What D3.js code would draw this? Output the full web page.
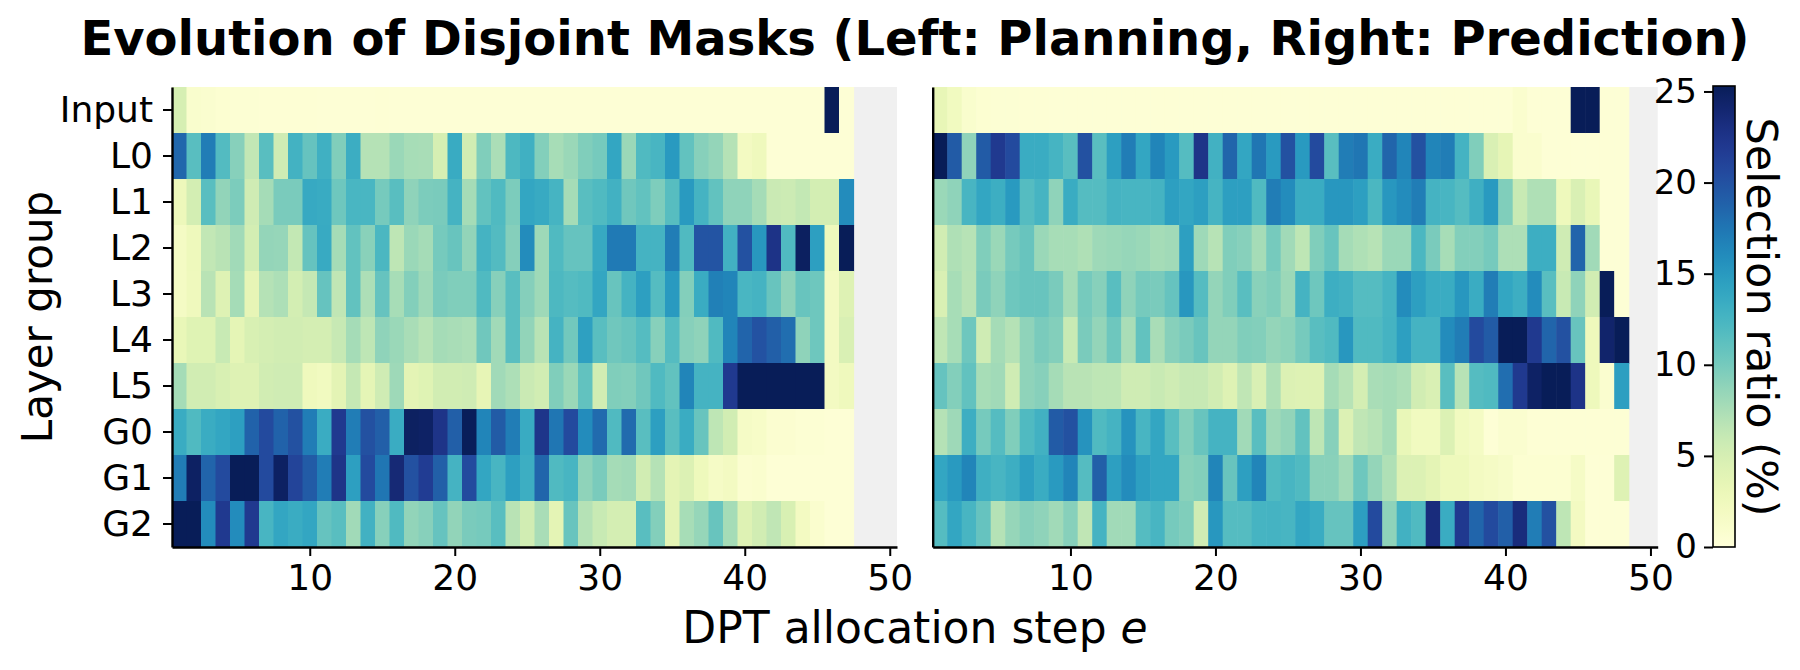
<!DOCTYPE html>
<html>
<head>
<meta charset="utf-8">
<script src="https://cdn.jsdelivr.net/npm/d3@7"></script>
<style>
  body { margin: 0; background: #fff; }
  text { font-family: "DejaVu Sans", sans-serif; }
</style>
</head>
<body>
<div id="chart"></div>
<script>
/* disjoint masks heatmaps, planning vs prediction */

const rowLabels = ["Input", "L0", "L1", "L2", "L3", "L4", "L5", "G0", "G1", "G2"];
const xTicks = [10, 20, 30, 40, 50];
const cbarTicks = [0, 5, 10, 15, 20, 25];

// planning (left), steps 1..47
const planInput = [5.0,1.0,0.8,0.6,0.5,0.5,0.4,0.4,0.4,0.4, 0.3,0.3,0.3,0.3,0.4,0.3,0.3,0.3,0.3,0.3, 0.3,0.3,0.3,0.3,0.3,0.3,0.3,0.3,0.3,0.3, 0.3,0.3,0.3,0.3,0.3,0.3,0.3,0.3,0.3,0.3, 0.3,0.3,0.3,0.3,0.3,26,0.3];
const planL0 = [18.5,11.5,17,11.8,9.2,6.3,11.5,5.5,12.8,10.8, 13,9.5,13.3,7,7,8.3,7.7,7.6,5,13.5, 5.3,9.5,7.5,12.2,13,9.4,7.7,8.3,9.5,10, 14,8.3,12,12.5,15,11,9.2,8.6,7,2, 2.5,0.3,0.3,0.3,0.3,0.3,0.3];
const planL1 = [2.8,5.2,11.5,8.7,9.7,5.5,7.8,9.8,9.8,13.7, 13.5,10.4,12.4,12.4,10,11.5,8.8,9.7,9.8,12.7, 7.8,11,12,9.7,14,13.6,12.6,7.8,11.5,12, 12.9,10.3,11,9.6,11.6,15,12.7,11,8.8,8.8, 7.8,5.8,5.7,6.2,5.2,5.2,16];
const planL2 = [1.8,2.6,6.3,6.8,8,5.2,8.6,8.5,6.2,10.8, 13.6,7.8,11,9.1,12.3,6.5,8.3,7.8,10,10.7, 8.7,12.7,11.8,9.3,16,8.1,12,10.8,10.8,13.7, 17.2,17.2,12.7,12.7,17,12,19.8,19.8,12.9,20, 15.2,22.6,12,24.9,14.6,2.6,26];
const planL3 = [1.8,2.5,6.8,4.3,7.8,3.5,7,7.4,5.2,6.1, 10.8,6.4,11,7.4,10.8,7.7,9.4,8.1,9.8,9.5, 9.5,12,9.2,11.5,9.3,8.1,12.2,11.7,12,14, 10.7,12.7,14.6,11.7,15,9.4,13.4,16.8,16.5,12.4, 12.7,10.7,8.8,10.7,10.4,2,4.3];
const planL4 = [3.2,4.2,4.2,5.9,3.7,4.8,5.1,5.3,5.3,5.1, 5.1,6,7.8,6.5,8.8,8.3,7.6,6.9,7.8,7.6, 7.4,10.3,8,11.5,8.7,6.8,12.7,10.2,14.5,11.5, 10.3,10.7,11.7,9.2,11.7,9.2,8.8,12,16.5,18.7, 19.9,19,18,8.8,10.4,2,4.7];
const planL5 = [7.8,5.3,5.3,4.8,4.3,4.3,5.3,5.5,5.5,2.5, 2.2,3.8,6.1,3.7,5.5,8.1,3.8,4.2,5.3,5.3, 5.5,3.5,8,7.4,5.8,5.3,9.5,8.3,11,5.3, 9.5,9.4,10.3,12,11,16.5,12.7,12.7,22,26, 26,26,26,26,26,2,2.5];
const planG0 = [13.4,12,13.4,14,14.6,18.8,20.5,18.8,20,17, 13.4,22,17,20,19,13.4,24.8,24.6,22.5,19, 25.2,16.5,19.3,17,13.5,22.4,17.5,20.5,16,18.2, 12,18.2,11.5,14.6,11.5,13.4,10.7,6.5,5.3,1.6, 1.4,0.7,0.7,0.5,0.5,0.3,0.3];
const planG1 = [17,24.7,18.7,20.5,26,26,20.5,24.7,21,19.3, 17,22.5,14.6,20.5,17.5,23.7,20,21.7,19,12.7, 20.5,14,12.5,14.6,13.2,18.6,12,12.5,8.8,9.8, 7.8,8,5.3,7,3.8,4.5,2.6,1.6,2,0.7, 0.9,0.3,0.3,0.3,0.3,0.3,0.3];
const planG2 = [26,26,16,22,16,22,12.5,14,13.4,14, 10.8,11.5,8,12.9,9.2,12,8.7,9.2,10.8,8.7, 9.8,10,11.5,6.8,5.3,7.6,3.8,10.7,7,5.9, 5.1,5.1,11.5,9.4,3.8,7.7,8.5,10.7,7.8,4.3, 5.3,6.4,4.8,2,0.9,0.3,0.3];

// prediction (right), steps 1..48
const predInput = [3.3,2.2,1.0,0.6,0.5,0.5,0.4,0.4,0.3,0.3, 0.3,0.3,0.3,0.3,0.3,0.3,0.3,0.3,0.3,0.3, 0.3,0.3,0.3,0.3,0.3,0.3,0.3,0.3,0.3,0.3, 0.3,0.3,0.3,0.3,0.3,0.3,0.3,0.3,0.3,0.3, 0.9,0.3,0.3,0.3,26,26,0.3,0.3];
const predL0 = [26,19.3,8.8,19.3,22,20.5,13.4,13.4,12.6,11.5, 20,11.5,14.6,17,14,16.5,15,11.7,22.5,12.9, 18.6,14,17.5,15,20,15,20.5,11.5,17,17.5, 13.4,18.6,16.5,20,16.5,17,12.7,9.5,4.7,3.6, 0.9,0.9,0.3,0.3,0.3,0.3,0.3,0.3];
const predL1 = [8.3,8.8,12.5,14,13.2,15,11.7,12.6,8.8,13.4, 11.7,11.7,12.7,12.5,12.5,12.7,14.6,14,14.6,12.6, 14.6,14.6,12,17,16,13.4,13.4,15.2,15.2,14.6, 12.3,15.2,16,17,12.7,12.5,11.7,13.1,15,9.5, 5.9,7.3,7.3,2.6,4.7,3.2,0.3,0.3];
const predL2 = [5.3,7.3,6.9,9.5,8.3,10,10.7,8.3,7.7,7.7, 7.3,8.1,8.3,8.5,8.3,7.8,8,14.6,8.1,6.9, 9.5,9.2,7.8,10,8,6.5,9.5,10.7,7.8,7.3, 6.9,8.3,8.3,12.3,9.8,7.7,9.4,9.4,10,7.4, 7.4,13.2,13.2,5.5,18.7,8,0.3,0.3];
const predL3 = [4.7,7.7,6.8,9.8,8.8,10.4,10.7,10.7,9.8,7.8, 10,9.2,11.5,8.8,10,9.8,10.8,15.2,11.7,8.6, 9.5,11.5,9.1,9.5,8.2,12.7,10.4,13.2,12.9,11.7, 11.7,12.6,16,14.6,13.4,13.4,15.2,13.4,17,14, 13.2,16,11.5,5.9,8.8,5.3,26,0.3];
const predL4 = [6.4,7.7,10.4,5.5,7.8,7,8.8,9.8,9.4,5.9, 9.8,8.6,10.4,7.6,11,7.6,9.2,9.8,10.7,8.6, 8.6,9.5,9.4,8.6,8.9,10,11.5,12,15.2,12, 12,12.7,14.6,12.7,12.7,16,17,20.5,19.3,26, 26,22,18.6,20,10.7,2.6,24.3,26];
const predL5 = [10.8,9.4,11,7.7,8,5.5,8.8,9.2,7.8,6.8, 6.8,6.5,6.5,5.5,5.5,5.9,5.5,6,6,5.3, 4.3,6.4,4.7,7.3,4.5,4.3,4.3,7.8,6.9,5.1, 7.6,7.8,7.4,5.3,4.7,11.5,6.9,11.7,12,18, 22,24.6,26,26,22.6,2.6,0.8,14.6];
const predG0 = [7,8.1,13.2,10,11.7,9.5,12,12.9,19.3,20, 15.5,12,12.7,15.5,12.5,14,11.5,9.4,10.7,12.7, 12.7,8,11.5,8.1,8.7,11,6.5,9.2,4.5,6.4, 6.9,7.8,3.2,2.2,2.2,4.5,2.2,1.8,0.3,0.8, 0.8,0.4,0.4,0.4,0.4,0.4,0.4,0.4];
const predG1 = [14,15,16.5,13.1,12.5,13.2,14.6,13.4,15,16.5, 11.7,19,14.6,16,14.6,14,14,9.1,9.4,16.5, 10.7,14.6,16.5,12,12.5,12,9.1,9.1,8,10.4, 8.6,7.3,4.5,4.5,3.8,2.6,2.6,2,1.7,1.3, 0.6,0.6,0.6,0.6,1.6,0.3,0.3,4.3];
const predG2 = [11.7,14,12.5,10.8,7,8.5,9.2,8.8,8,9.2, 6.4,12.7,8,8,11.7,12.5,10,9.5,5.5,15.2, 11.7,11.7,12.6,12.7,12.5,14,13.4,10.8,10.8,14.6, 20.5,8.8,12.9,12,23.3,13.4,22,18.6,20.5,19, 23.3,17,20,6.5,2,0.3,0.3,0.3];

const planRows = [planInput, planL0, planL1, planL2, planL3, planL4, planL5, planG0, planG1, planG2];
const predRows = [predInput, predL0, predL1, predL2, predL3, predL4, predL5, predG0, predG1, predG2];

const width = 1800, height = 670;
const plotTop = 87, plotBottom = 547;
const vmax = 25.3;

let svg = d3.select("#chart")
    .append("svg")
    .attr("width", width)
    .attr("height", height);

let y = d3.scaleBand()
    .domain(rowLabels)
    .range([plotTop, plotBottom]);

let color = d3.scaleSequential(d3.interpolateYlGnBu)
    .domain([0, vmax])
    .clamp(true);

function drawPanel(rows, left, right, showY) {
    let x = d3.scaleLinear()
        .domain([0.5, 50.5])
        .range([left, right]);

    let g = svg.append("g");

    // background where there is no data
    g.append("rect")
        .attr("x", left)
        .attr("y", plotTop)
        .attr("width", right - left)
        .attr("height", plotBottom - plotTop)
        .attr("fill", "#f0f0f0");

    let cells = [];
    rows.forEach((vals, r) => {
        vals.forEach((v, i) => cells.push({row: rowLabels[r], step: i + 1, v: v}));
    });

    g.selectAll(".cell")
        .data(cells)
        .join("rect")
        .attr("class", "cell")
        .attr("x", d => x(d.step - 0.5))
        .attr("y", d => y(d.row))
        .attr("width", d => x(d.step + 0.5) - x(d.step - 0.5) + 0.6)
        .attr("height", d => y.bandwidth() + (d.row === "G2" ? 0 : 0.6))
        .attr("fill", d => color(d.v));

    let xAxis = g.append("g")
        .attr("transform", `translate(0,${plotBottom})`)
        .call(d3.axisBottom(x).tickValues(xTicks).tickSize(9).tickSizeOuter(0).tickPadding(8));

    let yAxis = g.append("g")
        .attr("transform", `translate(${left},0)`)
        .call(d3.axisLeft(y).tickSize(showY ? 9 : 0).tickSizeOuter(0).tickPadding(10));

    if (!showY) yAxis.selectAll(".tick").remove();

    for (let ax of [xAxis, yAxis]) {
        ax.select(".domain").attr("stroke", "#000").attr("stroke-width", 2.4);
        ax.selectAll(".tick line").attr("stroke", "#000").attr("stroke-width", 2);
        ax.selectAll(".tick text")
            .style("font-family", "DejaVu Sans")
            .style("font-size", "36px")
            .attr("fill", "#000");
    }
}

drawPanel(planRows, 172, 897, true);
drawPanel(predRows, 932.7, 1657.7, false);

// colorbar
const cbX = 1713, cbW = 22;
let c = d3.scaleLinear()
    .domain([0, vmax])
    .range([plotBottom, 86]);

let grad = svg.append("defs").append("linearGradient")
    .attr("id", "cbar")
    .attr("x1", 0).attr("y1", 1).attr("x2", 0).attr("y2", 0);

grad.selectAll("stop")
    .data(d3.range(0, 1.0001, 0.02))
    .join("stop")
    .attr("offset", d => d)
    .attr("stop-color", d => color(d * vmax));

svg.append("rect")
    .attr("x", cbX)
    .attr("y", c(vmax))
    .attr("width", cbW)
    .attr("height", c(0) - c(vmax))
    .attr("fill", "url(#cbar)")
    .attr("stroke", "#000")
    .attr("stroke-width", 1.6);

let cAxis = svg.append("g")
    .attr("transform", `translate(${cbX},0)`)
    .call(d3.axisLeft(c).tickValues(cbarTicks).tickSize(9).tickSizeOuter(0).tickPadding(7));
cAxis.select(".domain").remove();
cAxis.selectAll(".tick line").attr("stroke", "#000").attr("stroke-width", 2);
cAxis.selectAll(".tick text")
    .style("font-family", "DejaVu Sans")
    .style("font-size", "34px")
    .attr("fill", "#000");

// labels
svg.append("text")
    .attr("x", 915)
    .attr("y", 55)
    .attr("text-anchor", "middle")
    .style("font-size", "48px")
    .style("font-weight", "bold")
    .text("Evolution of Disjoint Masks (Left: Planning, Right: Prediction)");

let xl = svg.append("text")
    .attr("x", 915)
    .attr("y", 643)
    .attr("text-anchor", "middle")
    .style("font-size", "44px");
xl.append("tspan").text("DPT allocation step ");
xl.append("tspan").style("font-style", "italic").text("e");

svg.append("text")
    .attr("transform", "translate(52,317) rotate(-90)")
    .attr("text-anchor", "middle")
    .style("font-size", "42px")
    .text("Layer group");

svg.append("text")
    .attr("transform", "translate(1747,317) rotate(90)")
    .attr("text-anchor", "middle")
    .style("font-size", "43px")
    .text("Selection ratio (%)");
</script>
</body>
</html>
